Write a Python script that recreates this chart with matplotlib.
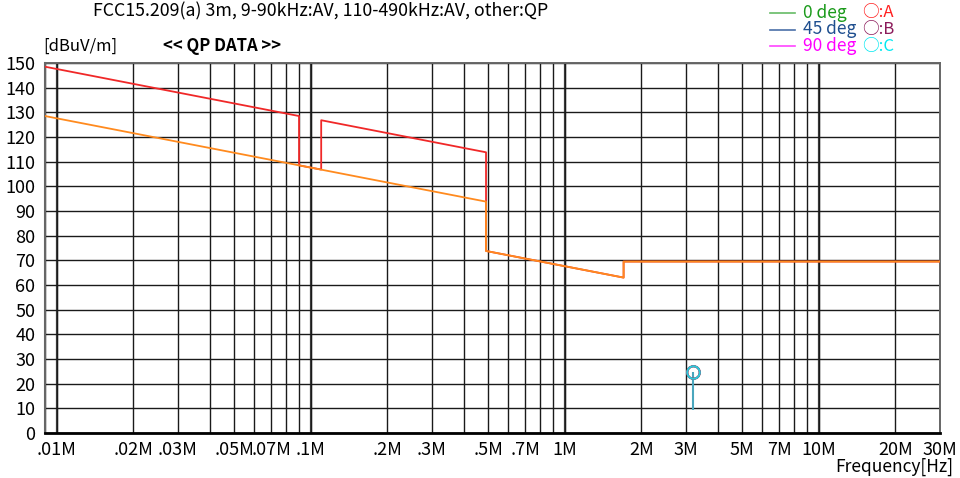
import numpy as np
import matplotlib
matplotlib.use("Agg")
from matplotlib import pyplot as plt
from matplotlib.ticker import FixedLocator, NullFormatter

plt.rcParams['font.family'] = ['Noto Sans CJK JP', 'DejaVu Sans']

# FCC 15.209 limit lines, breakpoints in MHz / dBuV/m
qp_freq = [0.009, 0.09, 0.09, 0.11, 0.11, 0.49, 0.49, 1.705, 1.705, 30.0]
qp_level = [148.5, 128.5, 108.5, 106.8, 126.8, 113.8, 73.8, 63.0, 69.5, 69.5]
av_freq = [0.009, 0.49, 0.49, 1.705, 1.705, 30.0]
av_level = [128.5, 93.8, 73.8, 63.0, 69.5, 69.5]

# peak reading
peak_freq = [3.21]
peak_level = [24.7]
peak_floor = [9.3]

tick_freq = [0.01, 0.02, 0.03, 0.05, 0.07, 0.1, 0.2, 0.3, 0.5, 0.7,
             1, 2, 3, 5, 7, 10, 20, 30]
tick_labels = ['.01M', '.02M', '.03M', '.05M', '.07M', '.1M', '.2M', '.3M', '.5M', '.7M',
               '1M', '2M', '3M', '5M', '7M', '10M', '20M', '30M']
decades = [0.01, 0.1, 1, 10]

fig = plt.figure(figsize=(9.6, 4.78), dpi=100)
ax = fig.add_axes([45/960, 45/478, 895/960, 370/478])

ax.set_xscale('log')
ax.set_xlim(0.009, 30)
ax.set_ylim(0, 150)

minor = [m * d for d in [0.001, 0.01, 0.1, 1, 10] for m in range(1, 10)]
minor = [f for f in minor if 0.009 < f < 30 and f not in tick_freq]
ax.xaxis.set_major_locator(FixedLocator(tick_freq))
ax.xaxis.set_minor_locator(FixedLocator(minor))
ax.xaxis.set_minor_formatter(NullFormatter())
ax.set_xticklabels(tick_labels)
ax.set_yticks(np.arange(0, 151, 10))

ax.grid(True, which='both', color='#1a1a1a', lw=1.0)
for d in decades:
    ax.axvline(d, color='#404040', lw=1.6, zorder=1)
ax.tick_params(which='both', length=0, labelsize=13, colors='black')
ax.tick_params(axis='y', pad=7)
ax.tick_params(axis='x', pad=6)

for side in ['top', 'right']:
    ax.spines[side].set_color('#666666')
    ax.spines[side].set_linewidth(1.4)
ax.spines['left'].set_color('#666666')
ax.spines['left'].set_linewidth(1.5)
ax.spines['bottom'].set_color('black')
ax.spines['bottom'].set_linewidth(2)

ax.plot(qp_freq, qp_level, color='#f02828', lw=1.3, zorder=3)
ax.plot(av_freq, av_level, color='#ff8a1e', lw=1.3, zorder=4)

# peak stem with overlapping A/B/C markers
ax.vlines(peak_freq, peak_floor, peak_level, color='#4aa6bd', lw=1.5, zorder=5)
for c in ['#ff2020', '#8b1a5a', '#2ec8d8']:
    ax.plot(peak_freq, peak_level, 'o', ms=9, mfc='none', mec=c, mew=1.5, zorder=6)

fig.text(93/960, 1 - 11/478, 'FCC15.209(a) 3m, 9-90kHz:AV, 110-490kHz:AV, other:QP',
         fontsize=12.8, va='center', ha='left')
fig.text(43/960, 1 - 46/478, '[dBuV/m]', fontsize=12, va='center', ha='left')
fig.text(163/960, 1 - 46/478, '<< QP DATA >>', fontsize=12, fontweight='bold',
         va='center', ha='left')
fig.text(953/960, 1 - 467/478, 'Frequency[Hz]', fontsize=12.5, va='center', ha='right')

# legend block
legend_rows = [('0 deg', '#66bb66', '#1a9a1a', '○:A', '#ff2020'),
               ('45 deg', '#4a6fa8', '#1f4f8f', '○:B', '#8b1a5a'),
               ('90 deg', '#ff44ff', '#ff00ff', '○:C', '#00e8f0')]
for i, (lab, lc, tc, mk, mc) in enumerate(legend_rows):
    y = 1 - (13 + 16.5 * i) / 478
    fig.add_artist(plt.Line2D([770/960, 795/960], [y, y], color=lc, lw=1.2))
    fig.text(803/960, y, lab, color=tc, fontsize=12.5, va='center', ha='left')
    fig.text(862/960, y, mk, color=mc, fontsize=12, va='center', ha='left')

fig.savefig('out.png', dpi=100)
